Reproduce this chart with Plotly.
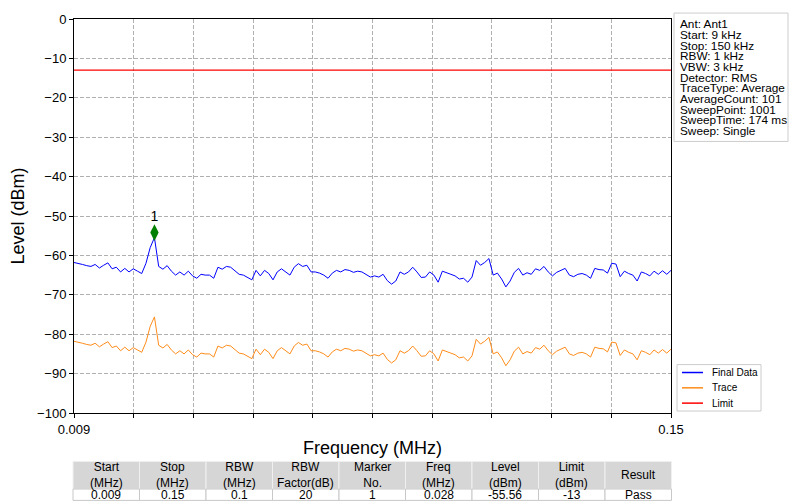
import plotly.graph_objects as go

# ---------------- data ----------------
freq_start = 0.009
freq_stop = 0.15
freq = [round(0.009 + 0.001 * i, 3) for i in range(142)]

final_data = [
    -61.8, -62.0, -62.3, -62.6, -62.8, -62.3, -63.2, -62.5, -61.9, -63.4,
    -63.0, -64.2, -63.3, -64.2, -63.4, -64.0, -64.6, -62.0, -58.0, -55.5,
    -62.8, -63.5, -62.6, -64.0, -65.0, -64.2, -65.0, -64.0, -65.2, -65.8,
    -64.8, -65.0, -65.0, -65.8, -63.0, -63.5, -62.8, -63.0, -63.8, -64.8,
    -65.0, -65.5, -66.2, -63.8, -65.2, -63.8, -64.6, -66.2, -64.2, -63.4,
    -64.2, -65.0, -63.0, -62.1, -62.8, -62.5, -64.2, -64.2, -64.5, -65.0,
    -65.8, -64.5, -63.8, -64.2, -63.6, -63.8, -64.3, -64.0, -64.2, -64.8,
    -65.5, -65.2, -65.5, -64.8, -66.4, -67.3, -66.5, -64.2, -64.8, -64.2,
    -63.0, -64.2, -65.6, -65.5, -64.2, -65.0, -66.8, -64.0, -64.5, -64.8,
    -65.2, -66.0, -65.8, -66.8, -65.5, -61.3, -62.5, -61.8, -60.8, -65.0,
    -64.5, -66.0, -68.0, -66.5, -64.3, -63.3, -65.0, -64.4, -64.8, -63.4,
    -63.8, -62.8, -64.2, -65.2, -64.3, -63.9, -63.3, -65.0, -65.4, -64.8,
    -64.6, -65.0, -65.8, -63.3, -63.6, -63.7, -64.5, -62.0, -62.2, -65.4,
    -64.0, -64.6, -65.0, -66.5, -64.2, -64.6, -65.2, -64.0, -64.8, -63.9,
    -64.8, -63.8,
]

trace_data = [
    -81.8, -82.0, -82.3, -82.6, -82.8, -82.3, -83.2, -82.5, -81.9, -83.4,
    -83.0, -84.2, -83.3, -84.2, -83.4, -84.0, -84.6, -82.0, -78.0, -75.6,
    -82.8, -83.5, -82.6, -84.0, -85.0, -84.2, -85.0, -84.0, -85.2, -85.8,
    -84.8, -85.0, -85.0, -85.8, -83.0, -83.5, -82.8, -83.0, -83.8, -84.8,
    -85.0, -85.5, -86.2, -83.8, -85.2, -83.8, -84.6, -86.2, -84.2, -83.4,
    -84.2, -85.0, -83.0, -82.1, -82.8, -82.5, -84.2, -84.2, -84.5, -85.0,
    -85.8, -84.5, -83.8, -84.2, -83.6, -83.8, -84.3, -84.0, -84.2, -84.8,
    -85.5, -85.2, -85.5, -84.8, -86.4, -87.3, -86.5, -84.2, -84.8, -84.2,
    -83.0, -84.2, -85.6, -85.5, -84.2, -85.0, -86.8, -84.0, -84.5, -84.8,
    -85.2, -86.0, -85.8, -86.8, -85.5, -81.3, -82.5, -81.8, -80.8, -85.0,
    -84.5, -86.0, -88.0, -86.5, -84.3, -83.3, -85.0, -84.4, -84.8, -83.4,
    -83.8, -82.8, -84.2, -85.2, -84.3, -83.9, -83.3, -85.0, -85.4, -84.8,
    -84.6, -85.0, -85.8, -83.3, -83.6, -83.7, -84.5, -82.0, -82.2, -85.4,
    -84.0, -84.6, -85.0, -86.5, -84.2, -84.6, -85.2, -84.0, -84.8, -83.9,
    -84.8, -83.8,
]

limit_level = -13

marker_freq = [0.028]
marker_level = [-54.2]
marker_label = ["1"]

x_tickvals = [0.009, 0.0231, 0.0372, 0.0513, 0.0654, 0.0795,
              0.0936, 0.1077, 0.1218, 0.1359, 0.15]
x_ticktext = ["0.009", "", "", "", "", "", "", "", "", "", "0.15"]

info_lines = [
    "Ant: Ant1", "Start: 9 kHz", "Stop: 150 kHz", "RBW: 1 kHz", "VBW: 3 kHz",
    "Detector: RMS", "TraceType: Average", "AverageCount: 101",
    "SweepPoint: 1001", "SweepTime: 174 ms", "Sweep: Single",
]

legend_names = ["Final Data", "Trace", "Limit"]
legend_colors = ["#0000ff", "#ff8c1a", "#ff0000"]

table_headers = ["Start<br>(MHz)", "Stop<br>(MHz)", "RBW<br>(MHz)",
                 "RBW<br>Factor(dB)", "Marker<br>No.", "Freq<br>(MHz)",
                 "Level<br>(dBm)", "Limit<br>(dBm)", "Result"]
table_values = ["0.009", "0.15", "0.1", "20", "1", "0.028", "-55.56", "-13", "Pass"]

# ---------------- layout geometry (pixels) ----------------
W, H = 791, 504
L, R, T, B = 74, 671, 14, 413
FONT = "Liberation Sans, Arial, sans-serif"


def px_x(px):
    return (px - L) / (R - L)


def px_y(py):
    return (B - py) / (B - T)


fig = go.Figure()

fig.add_trace(go.Scatter(x=freq, y=final_data, mode="lines", name=legend_names[0],
                         line=dict(color=legend_colors[0], width=1), showlegend=False))
fig.add_trace(go.Scatter(x=freq, y=trace_data, mode="lines", name=legend_names[1],
                         line=dict(color=legend_colors[1], width=1), showlegend=False))
fig.add_trace(go.Scatter(x=[freq_start, freq_stop], y=[limit_level, limit_level],
                         mode="lines", name=legend_names[2],
                         line=dict(color=legend_colors[2], width=1.2), showlegend=False))
fig.add_trace(go.Scatter(x=marker_freq, y=marker_level, mode="markers+text",
                         text=marker_label, textposition="top center",
                         textfont=dict(size=14, color="black", family=FONT),
                         marker=dict(symbol="diamond-tall", size=12, color="#008000"),
                         showlegend=False))

shapes = []
annotations = []

# info box
shapes.append(dict(type="rect", xref="paper", yref="paper",
                   x0=px_x(674), x1=px_x(788), y0=px_y(138), y1=px_y(8),
                   line=dict(color="#cccccc", width=1), fillcolor="white", layer="above"))
for k, line in enumerate(info_lines):
    annotations.append(dict(xref="paper", yref="paper", x=px_x(678), y=px_y(19.5 + 10.8 * k),
                            xanchor="left", yanchor="middle", showarrow=False, text=line,
                            font=dict(size=11.8, color="black", family=FONT)))

# legend box
shapes.append(dict(type="rect", xref="paper", yref="paper",
                   x0=px_x(677), x1=px_x(761), y0=px_y(411), y1=px_y(364),
                   line=dict(color="#cccccc", width=1), fillcolor="white", layer="above"))
for k, (nm, col) in enumerate(zip(legend_names, legend_colors)):
    yy = 372 + 15.5 * k
    shapes.append(dict(type="line", xref="paper", yref="paper",
                       x0=px_x(682), x1=px_x(703), y0=px_y(yy), y1=px_y(yy),
                       line=dict(color=col, width=1.5), layer="above"))
    annotations.append(dict(xref="paper", yref="paper", x=px_x(710), y=px_y(yy),
                            xanchor="left", yanchor="middle", showarrow=False, text=nm,
                            font=dict(size=10, color="black", family=FONT)))

# table
col_w = (671.5 - 73) / len(table_headers)
row_top, row_mid, row_bot = 462, 490, 501.5
for j, (hd, val) in enumerate(zip(table_headers, table_values)):
    x0 = 73 + j * col_w
    x1 = x0 + col_w
    shapes.append(dict(type="rect", xref="paper", yref="paper",
                       x0=px_x(x0), x1=px_x(x1), y0=px_y(row_mid), y1=px_y(row_top),
                       line=dict(color="#f0f0f0", width=1), fillcolor="#d6d6d6"))
    shapes.append(dict(type="rect", xref="paper", yref="paper",
                       x0=px_x(x0), x1=px_x(x1), y0=px_y(row_bot), y1=px_y(row_mid),
                       line=dict(color="#c8c8c8", width=1), fillcolor="white"))
    annotations.append(dict(xref="paper", yref="paper", x=px_x((x0 + x1) / 2),
                            y=px_y((row_top + row_mid) / 2), xanchor="center",
                            yanchor="middle", showarrow=False, text=hd,
                            font=dict(size=12, color="black", family=FONT)))
    annotations.append(dict(xref="paper", yref="paper", x=px_x((x0 + x1) / 2),
                            y=px_y((row_mid + row_bot) / 2), xanchor="center",
                            yanchor="middle", showarrow=False, text=val,
                            font=dict(size=12, color="black", family=FONT)))

fig.update_layout(
    width=W, height=H,
    margin=dict(l=L, r=W - R, t=T, b=H - B, pad=0),
    paper_bgcolor="white", plot_bgcolor="white",
    font=dict(family=FONT, color="black"),
    showlegend=False,
    shapes=shapes, annotations=annotations,
)

fig.update_xaxes(
    range=[freq_start, freq_stop], tickvals=x_tickvals, ticktext=x_ticktext,
    ticks="outside", ticklen=4, tickcolor="black", tickfont=dict(size=13),
    showline=True, linecolor="black", linewidth=1, mirror=True,
    showgrid=True, gridcolor="#b0b0b0", griddash="4px,2px", gridwidth=0.8,
    zeroline=False,
    title=dict(text="Frequency (MHz)", font=dict(size=18), standoff=5),
)
fig.update_yaxes(
    range=[-100, 0], dtick=10, tick0=0,
    ticks="outside", ticklen=4, tickcolor="black", tickfont=dict(size=13),
    showline=True, linecolor="black", linewidth=1, mirror=True,
    showgrid=True, gridcolor="#b0b0b0", griddash="4px,2px", gridwidth=0.8,
    zeroline=False,
    title=dict(text="Level (dBm)", font=dict(size=18), standoff=7),
)

fig.write_html("out.html", config={"displayModeBar": False},
               post_script="document.body.style.margin='0px';document.body.style.overflow='hidden';")
